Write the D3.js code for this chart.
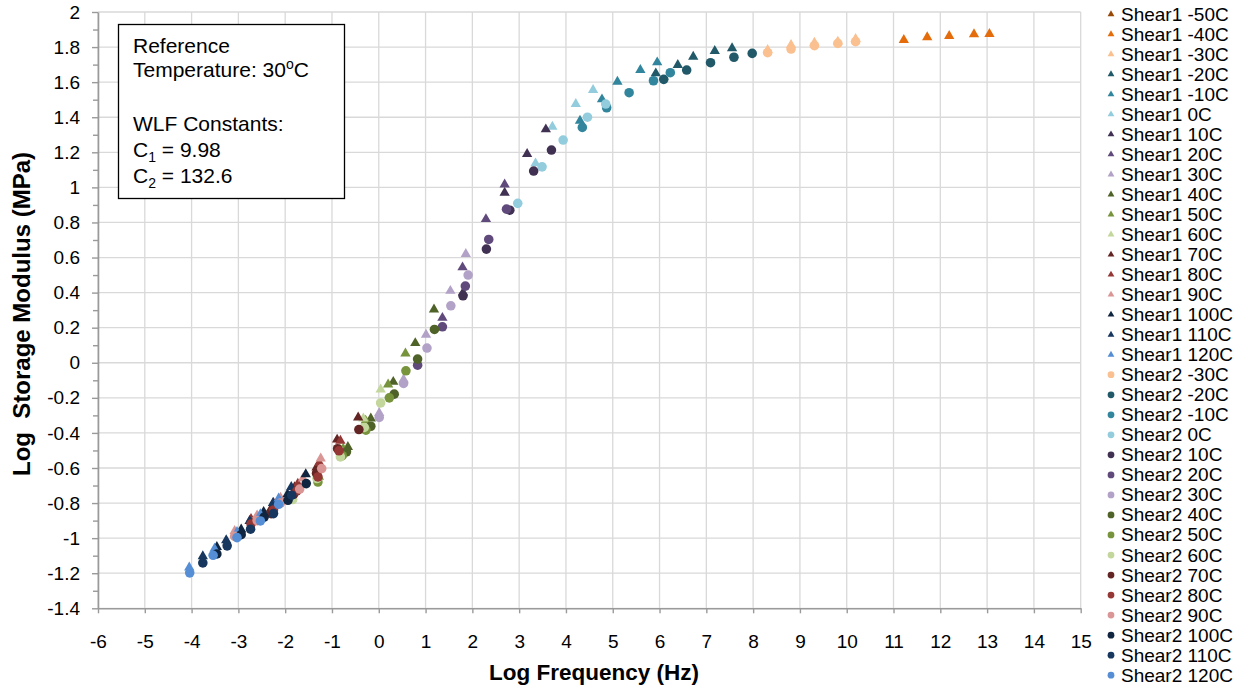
<!DOCTYPE html>
<html>
<head>
<meta charset="utf-8">
<script src="https://cdn.jsdelivr.net/npm/d3@7"></script>
<style>
  html, body { margin: 0; padding: 0; background: #fff; }
  svg { display: block; font-family: "Liberation Sans", Arial, sans-serif; }
</style>
</head>
<body>
<svg id="chart" width="1247" height="687"></svg>
<script>
// Temperatures of each test series
const shear1Temps = ["-50C", "-40C", "-30C", "-20C", "-10C", "0C", "10C", "20C", "30C", "40C", "50C", "60C", "70C", "80C", "90C", "100C", "110C", "120C"];
const shear2Temps = ["-30C", "-20C", "-10C", "0C", "10C", "20C", "30C", "40C", "50C", "60C", "70C", "80C", "90C", "100C", "110C", "120C"];

// Shear1: shifted log frequency (Hz) and log storage modulus (MPa), one row per temperature
const shear1LogFreq = [
  [],
  [11.22, 11.72, 12.19, 12.72, 13.05],
  [8.31, 8.81, 9.31, 9.81, 10.19],
  [5.92, 6.39, 6.72, 7.18, 7.55],
  [4.30, 4.77, 5.10, 5.59, 5.95],
  [3.35, 3.71, 4.21, 4.58],
  [1.80, 2.69, 3.17, 3.57],
  [1.36, 1.79, 2.29, 2.69],
  [0.01, 0.53, 1.01, 1.53, 1.86],
  [-0.66, -0.17, 0.31, 0.78, 1.18],
  [-1.28, -0.76, -0.28, 0.20, 0.57],
  [-1.82, -1.32, -0.83, -0.33, 0.04],
  [-2.30, -1.80, -1.33, -0.89, -0.44],
  [-2.73, -2.25, -1.73, -1.27, -0.82],
  [-3.08, -2.60, -2.10, -1.62, -1.24],
  [-3.46, -2.94, -2.46, -1.95, -1.56],
  [-3.76, -3.26, -2.76, -2.26, -1.87],
  [-4.05, -3.51, -3.03, -2.53, -2.14]
];
const shear1LogModulus = [
  [],
  [1.840, 1.856, 1.863, 1.873, 1.875],
  [1.783, 1.812, 1.825, 1.831, 1.846],
  [1.650, 1.698, 1.745, 1.778, 1.793],
  [1.380, 1.502, 1.602, 1.669, 1.713],
  [1.137, 1.346, 1.475, 1.555],
  [0.400, 0.969, 1.190, 1.331],
  [0.256, 0.544, 0.819, 1.017],
  [-0.286, -0.095, 0.160, 0.410, 0.620],
  [-0.480, -0.318, -0.109, 0.112, 0.304],
  [-0.650, -0.490, -0.330, -0.124, 0.053],
  [-0.740, -0.630, -0.490, -0.318, -0.152],
  [-0.830, -0.710, -0.597, -0.438, -0.312],
  [-0.890, -0.800, -0.690, -0.570, -0.445],
  [-0.959, -0.870, -0.770, -0.660, -0.546],
  [-1.050, -0.951, -0.850, -0.750, -0.636],
  [-1.103, -1.012, -0.902, -0.800, -0.708],
  [-1.167, -1.060, -0.965, -0.864, -0.774]
];

// Shear2: shifted log frequency (Hz) and log storage modulus (MPa)
const shear2LogFreq = [
  [8.31, 8.81, 9.31, 9.81, 10.19],
  [6.09, 6.58, 7.09, 7.59, 7.98],
  [4.35, 4.87, 5.35, 5.87, 6.23],
  [2.97, 3.49, 3.94, 4.46, 4.85],
  [1.80, 2.30, 2.80, 3.31, 3.69],
  [0.83, 1.36, 1.85, 2.35, 2.73],
  [0.01, 0.53, 1.03, 1.54, 1.91],
  [-0.69, -0.17, 0.33, 0.83, 1.19],
  [-1.30, -0.78, -0.275, 0.225, 0.58],
  [-1.84, -1.32, -0.82, -0.31, 0.04],
  [-2.30, -1.82, -1.33, -0.88, -0.425],
  [-2.73, -2.25, -1.75, -1.30, -0.85],
  [-3.08, -2.60, -2.10, -1.69, -1.22],
  [-3.46, -2.94, -2.45, -1.94, -1.55],
  [-3.76, -3.24, -2.74, -2.25, -1.86],
  [-4.04, -3.54, -3.03, -2.53, -2.14]
];
const shear2LogModulus = [
  [1.768, 1.789, 1.808, 1.821, 1.831],
  [1.616, 1.669, 1.711, 1.742, 1.764],
  [1.342, 1.454, 1.540, 1.608, 1.654],
  [0.909, 1.117, 1.270, 1.400, 1.475],
  [0.382, 0.648, 0.870, 1.093, 1.213],
  [-0.014, 0.205, 0.437, 0.703, 0.876],
  [-0.312, -0.118, 0.084, 0.325, 0.500],
  [-0.508, -0.362, -0.179, 0.021, 0.190],
  [-0.680, -0.530, -0.384, -0.200, -0.046],
  [-0.780, -0.660, -0.537, -0.369, -0.229],
  [-0.860, -0.750, -0.630, -0.490, -0.381],
  [-0.920, -0.840, -0.730, -0.651, -0.502],
  [-0.990, -0.900, -0.800, -0.720, -0.603],
  [-1.090, -0.980, -0.880, -0.784, -0.689],
  [-1.141, -1.044, -0.949, -0.860, -0.755],
  [-1.198, -1.098, -0.997, -0.902, -0.807]
];

// Axis ticks
const xTicks = d3.range(-6, 16, 1);
const yTicks = [-1.4, -1.2, -1, -0.8, -0.6, -0.4, -0.2, 0, 0.2, 0.4, 0.6, 0.8, 1, 1.2, 1.4, 1.6, 1.8, 2];
const yMinorTicks = [-1.3, -1.1, -0.9, -0.7, -0.5, -0.3, -0.1, 0.1, 0.3, 0.5, 0.7, 0.9, 1.1, 1.3, 1.5, 1.7, 1.9];

// Colour per temperature
const tempColor = {
  "-50C": "#984807", "-40C": "#E46C0A", "-30C": "#FAC090",
  "-20C": "#215968", "-10C": "#31859C", "0C": "#93CDDD",
  "10C": "#403152", "20C": "#604A7B", "30C": "#B3A2C7",
  "40C": "#4F6228", "50C": "#77933C", "60C": "#C3D69B",
  "70C": "#632523", "80C": "#953735", "90C": "#D99694",
  "100C": "#10253F", "110C": "#17375E", "120C": "#558ED5"
};

const svg = d3.select("#chart");
const x = d3.scaleLinear().domain([-6, 15]).range([98, 1080.7]);
const y = d3.scaleLinear().domain([-1.4, 2]).range([608.3, 12]);

// Gridlines
const grid = svg.append("g");
grid.selectAll("line.v").data(xTicks).join("line")
  .attr("x1", d => x(d)).attr("x2", d => x(d))
  .attr("y1", y(2)).attr("y2", y(-1.4))
  .attr("stroke", "#d9d9d9").attr("stroke-width", 1.3);
grid.selectAll("line.h").data(yTicks).join("line")
  .attr("x1", x(-6)).attr("x2", x(15))
  .attr("y1", d => y(d)).attr("y2", d => y(d))
  .attr("stroke", "#d9d9d9").attr("stroke-width", 1.3);

const fmt = d => String(+d.toFixed(1));

// Y axis
const yAxisG = svg.append("g").attr("transform", `translate(${x(-6)},0)`)
  .call(d3.axisLeft(y).tickValues(yTicks).tickFormat(fmt).tickSize(6).tickSizeOuter(0).tickPadding(12));
const yMinorG = svg.append("g").attr("transform", `translate(${x(-6)},0)`)
  .call(d3.axisLeft(y).tickValues(yMinorTicks).tickFormat("").tickSize(5).tickSizeOuter(0));
yMinorG.select(".domain").remove();

// X axis
const xAxisG = svg.append("g").attr("transform", `translate(0,${y(-1.4)})`)
  .call(d3.axisBottom(x).tickValues(xTicks).tickFormat(d => String(d)).tickSize(5).tickSizeOuter(0).tickPadding(21));

[yAxisG, yMinorG, xAxisG].forEach(g => {
  g.selectAll(".domain").attr("stroke", "#9a9a9a").attr("stroke-width", 1.6);
  g.selectAll(".tick line").attr("stroke", "#9a9a9a").attr("stroke-width", 1.4);
  g.selectAll(".tick text").attr("fill", "#000").style("font-size", "19px")
    .style("font-family", "'Liberation Sans', Arial, sans-serif");
});

// Axis titles
svg.append("text")
  .attr("x", 594).attr("y", 680)
  .attr("text-anchor", "middle")
  .style("font-size", "22.5px").style("font-weight", "bold")
  .text("Log Frequency (Hz)");
svg.append("text")
  .attr("transform", "translate(30,314) rotate(-90)")
  .attr("text-anchor", "middle")
  .style("font-size", "24px").style("font-weight", "bold")
  .attr("xml:space", "preserve")
  .style("white-space", "pre")
  .text("Log  Storage Modulus (MPa)");

// Markers
const triSize = 46, circSize = 72;
const triPath = d3.symbol(d3.symbolTriangle, triSize)();
const circPath = d3.symbol(d3.symbolCircle, circSize)();

const points = svg.append("g");
shear1Temps.forEach((t, i) => {
  const pts = shear1LogFreq[i].map((f, j) => ({ f, m: shear1LogModulus[i][j] }));
  points.append("g").selectAll("path").data(pts).join("path")
    .attr("d", triPath)
    .attr("transform", d => `translate(${x(d.f)},${y(d.m)})`)
    .attr("fill", tempColor[t]);
});
shear2Temps.forEach((t, i) => {
  const pts = shear2LogFreq[i].map((f, j) => ({ f, m: shear2LogModulus[i][j] }));
  points.append("g").selectAll("path").data(pts).join("path")
    .attr("d", circPath)
    .attr("transform", d => `translate(${x(d.f)},${y(d.m)})`)
    .attr("fill", tempColor[t]);
});

// Annotation box
const note = svg.append("g");
note.append("rect")
  .attr("x", 118.5).attr("y", 24.5).attr("width", 226).attr("height", 174)
  .attr("fill", "#fff").attr("stroke", "#000").attr("stroke-width", 1.3);
const noteText = note.append("text").style("font-size", "21px").attr("fill", "#000");
noteText.append("tspan").attr("x", 133).attr("y", 53).text("Reference");
const t2 = noteText.append("tspan").attr("x", 133).attr("y", 77);
t2.append("tspan").text("Temperature: 30");
t2.append("tspan").attr("dy", -8).style("font-size", "14px").text("o");
t2.append("tspan").attr("dy", 8).text("C");
noteText.append("tspan").attr("x", 133).attr("y", 131).text("WLF Constants:");
const c1 = noteText.append("tspan").attr("x", 133).attr("y", 157);
c1.append("tspan").text("C");
c1.append("tspan").attr("dy", 5).style("font-size", "14px").text("1");
c1.append("tspan").attr("dy", -5).text(" = 9.98");
const c2 = noteText.append("tspan").attr("x", 133).attr("y", 183);
c2.append("tspan").text("C");
c2.append("tspan").attr("dy", 5).style("font-size", "14px").text("2");
c2.append("tspan").attr("dy", -5).text(" = 132.6");

// Legend
const legendItems = [
  ...shear1Temps.map(t => ({ name: "Shear1 " + t, t, shape: "tri" })),
  ...shear2Temps.map(t => ({ name: "Shear2 " + t, t, shape: "circ" }))
];
const legTri = d3.symbol(d3.symbolTriangle, 20)();
const legCirc = d3.symbol(d3.symbolCircle, 36)();
const legend = svg.append("g");
const rows = legend.selectAll("g").data(legendItems).join("g")
  .attr("transform", (d, i) => `translate(0,${20.7 + i * 20.03})`);
rows.append("path")
  .attr("d", d => d.shape === "tri" ? legTri : legCirc)
  .attr("transform", "translate(1111,-6.5)")
  .attr("fill", d => tempColor[d.t]);
rows.append("text")
  .attr("x", 1121).attr("y", 0)
  .style("font-size", "19px")
  .text(d => d.name);
</script>
</body>
</html>
